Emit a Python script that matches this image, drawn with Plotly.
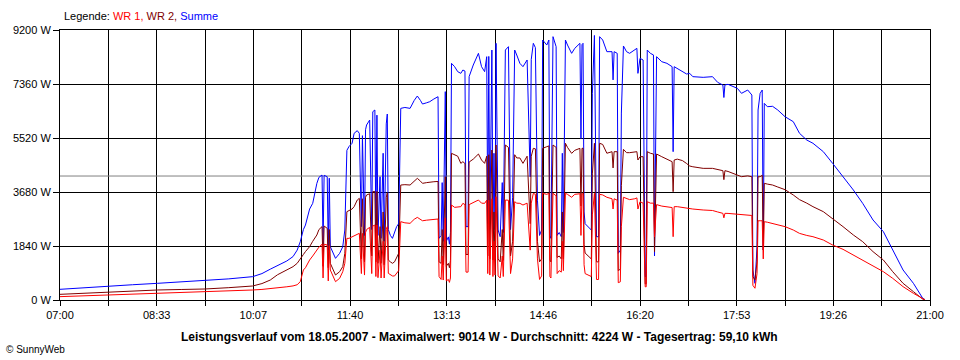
import plotly.graph_objects as go

# ---- data (time, Summe, WR 2, WR 1) ----
times = ["07:00","07:23","07:46","08:10","08:34","08:57","09:20","09:43","10:06","10:15",
         "10:23","10:30","10:39","10:45","10:49","10:52","10:55","10:57","11:01","11:04",
         "11:08","11:10","11:13","11:14","11:15","11:18","11:19","11:20","11:21","11:26",
         "11:30","11:33","11:35","11:37","11:39","11:42","11:44","11:47","11:49","11:51",
         "11:52","11:54","11:55","11:56","11:59","12:01","12:02","12:04","12:05","12:06",
         "12:07","12:09","12:10","12:12","12:13","12:15","12:16","12:17","12:19","12:21",
         "12:23","12:25","12:27","12:29","12:33","12:38","12:42","12:45","12:48","12:50",
         "12:54","12:57","13:01","13:05","13:06","13:08","13:09","13:10","13:12","13:13",
         "13:15","13:16","13:17","13:18","13:21","13:24","13:27","13:29","13:31","13:32",
         "13:34","13:35","13:39","13:41","13:44","13:47","13:50","13:52","13:53","13:54",
         "13:55","13:57","13:58","13:59","14:00","14:01","14:03","14:05","14:07","14:08",
         "14:10","14:13","14:14","14:15","14:17","14:19","14:21","14:24","14:27","14:31",
         "14:34","14:35","14:37","14:39","14:41","14:42","14:43","14:45","14:46","14:50",
         "14:52","14:53","14:54","14:56","14:59","15:00","15:02","15:04","15:05","15:06",
         "15:08","15:10","15:14","15:17","15:22","15:23","15:24","15:25","15:26","15:27",
         "15:30","15:33","15:34","15:36","15:38","15:40","15:41","15:44","15:48","15:53",
         "15:54","15:55","15:58","15:59","16:01","16:02","16:04","16:07","16:10","16:15",
         "16:17","16:18","16:20","16:23","16:25","16:26","16:27","16:30","16:33","16:34",
         "16:36","16:41","16:46","16:51","16:52","16:53","16:56","17:01","17:05","17:08",
         "17:11","17:21","17:30","17:35","17:40","17:41","17:42","17:45","17:50","17:54",
         "17:58","18:04","18:08","18:09","18:11","18:13","18:14","18:16","18:18","18:19",
         "18:20","18:23","18:28","18:33","18:40","18:48","18:54","19:01","19:07","19:17",
         "19:26","19:36","19:46","19:55","20:05","20:15","20:24","20:34","20:44","20:53",
         "20:55"]

summe = [364,420,477,520,568,615,659,720,795,900,
         1050,1180,1330,1480,1700,1988,2400,2555,3100,3294,
         3975,4180,4259,1900,4250,4200,1700,4150,1817,1420,
         1590,1817,2385,5100,5227,5340,5680,5770,5680,2500,
         5600,2200,5800,5963,6133,2400,6417,6474,2300,6300,
         2200,4200,2100,5000,2000,6000,6337,2400,2200,2100,
         2300,2500,2600,6530,6560,6530,6800,6950,6800,6678,
         6720,6757,6850,6927,2100,2200,4000,2000,7100,2000,
         2150,1900,2300,8064,7950,7780,7723,7837,7800,2500,
         2500,7610,8007,8150,8405,7950,7780,8291,2600,8300,
         2400,8518,2300,5000,2400,8746,2385,2157,4000,2300,
         8518,8632,5000,2400,3500,8518,8348,8064,7950,8178,
         4200,8200,8746,8600,3400,2500,2200,2385,8859,8688,
         8859,2200,2100,8973,8632,2200,2300,2157,5000,2300,
         8859,8688,8405,8575,8746,5500,8700,8746,3000,2600,
         2500,2385,7042,9014,2157,2157,8973,8859,8462,8462,
         7500,8462,8405,1590,1700,6370,8655,8462,8405,8518,
         8575,7723,8234,8178,800,800,8518,8405,8350,1500,
         8291,8120,8064,7950,5054,7950,7894,7780,7700,7723,
         7610,7587,7610,7416,7325,6900,7330,7348,7280,7212,
         7042,7155,6985,1022,568,1800,6474,7042,7155,1704,
         6700,6587,6600,6474,6246,6076,5680,5451,5340,5054,
         4656,4202,3748,3294,2726,2328,1704,1022,568,57,
         20]

wr2 = [193,235,272,305,341,358,375,420,477,560,
       680,860,1030,1136,1250,1420,1550,1650,1817,2000,
       2215,2400,2500,1150,2520,2442,1100,2400,1250,852,
       965,1136,1590,3010,3040,3100,3180,3407,3464,1400,
       3450,1300,3500,3578,3620,1500,3691,3700,1300,3700,
       1250,2500,1250,3000,1200,3500,3650,1363,1300,1250,
       1300,1450,1590,3918,3930,3918,4050,4145,4050,3975,
       4000,4020,4030,4040,1300,1250,2400,1200,4200,1150,
       1250,1100,1350,4997,4940,4900,4656,4713,4650,1550,
       1550,4700,4800,4883,4974,4770,4656,4900,1500,4950,
       1400,5111,1363,3000,1400,5281,1400,1300,2400,1350,
       5281,5200,3000,1500,2000,4950,4840,4840,4656,4900,
       2600,4900,5168,5150,2000,1500,1300,1400,5168,5224,
       5250,1363,1300,5281,5200,1450,1500,1400,3000,1400,
       5340,5200,4997,5100,5168,3200,5170,5168,1900,1600,
       1500,1400,4300,5340,1300,1300,5340,5300,5000,5054,
       4500,5054,5054,1000,1050,3900,5134,5020,5020,5050,
       5054,4770,4883,4883,550,550,5054,5000,4974,1650,
       4974,4883,4800,4713,3691,4770,4800,4750,4650,4565,
       4540,4486,4486,4450,4407,4100,4407,4380,4316,4270,
       4202,4230,4200,800,681,1300,4200,4200,4250,1704,
       3975,3950,3918,3850,3760,3578,3420,3300,3180,3010,
       2783,2500,2215,1988,1647,1363,965,568,284,30,
       10]

wr1 = [114,140,170,200,227,250,272,300,341,360,
       385,420,450,480,520,625,1022,1100,1363,1500,
       1704,1800,1900,750,1900,1874,650,1850,1022,625,
       738,965,1250,2100,2100,2150,2200,2250,2272,900,
       2270,850,2300,2400,2476,900,2520,2555,800,2555,
       760,1700,750,2000,750,2400,2500,909,850,818,
       818,900,1000,2669,2630,2612,2750,2816,2750,2700,
       2720,2730,2748,2760,800,700,1500,680,2800,650,
       700,600,750,3237,3157,3180,3180,3294,3250,950,
       950,3250,3330,3350,3407,3300,3294,3400,900,3400,
       850,3450,800,2000,850,3520,820,750,1500,800,
       3407,3400,2000,900,1400,3350,3300,3294,3237,3300,
       1700,3300,3635,3600,1400,900,700,820,3635,3600,
       3635,800,750,3635,3550,900,1000,950,2000,1000,
       3635,3600,3500,3600,3620,2200,3620,3620,1200,900,
       850,800,2900,3635,700,700,3600,3580,3500,3450,
       3100,3450,3400,590,620,2500,3500,3450,3420,3450,
       3480,3100,3350,3300,450,450,3350,3300,3300,2150,
       3250,3200,3180,3150,2157,3180,3180,3150,3123,3123,
       3100,3067,3050,3000,2953,2800,2953,2950,2940,2930,
       2919,2900,2880,500,400,900,2700,2700,2700,1400,
       2669,2650,2612,2560,2500,2385,2270,2200,2157,2044,
       1874,1727,1533,1363,1158,965,738,455,227,30,
       10]

durchschnitt = 4224
x_tick_labels = ["07:00","08:33","10:07","11:40","13:13","14:46","16:20","17:53","19:26","21:00"]
y_tick_values = [0, 1840, 3680, 5520, 7360, 9200]
y_tick_labels = ["0 W", "1840 W", "3680 W", "5520 W", "7360 W", "9200 W"]
title_text = ("Leistungsverlauf vom 18.05.2007 - Maximalwert: 9014 W - "
              "Durchschnitt: 4224 W - Tagesertrag: 59,10 kWh")


def to_min(s):
    h, m = s.split(":")
    return int(h) * 60 + int(m)


xs = [to_min(t) for t in times]
x0, x1 = to_min(x_tick_labels[0]), to_min(x_tick_labels[-1])
step = (x1 - x0) / (len(x_tick_labels) - 1)
major_vals = [x0 + i * step for i in range(len(x_tick_labels))]
minor_vals = [x0 + (i + 0.5) * step for i in range(len(x_tick_labels) - 1)]

FONT = "Liberation Sans"
fig = go.Figure()
fig.add_trace(go.Scatter(x=[x0, x1], y=[durchschnitt, durchschnitt], mode="lines",
                         line=dict(color="#808080", width=1), hoverinfo="skip"))
fig.add_trace(go.Scatter(x=xs, y=summe, mode="lines", name="Summe",
                         line=dict(color="#0000FF", width=1)))
fig.add_trace(go.Scatter(x=xs, y=wr2, mode="lines", name="WR 2",
                         line=dict(color="#800000", width=1)))
fig.add_trace(go.Scatter(x=xs, y=wr1, mode="lines", name="WR 1",
                         line=dict(color="#FF0000", width=1)))

fig.update_layout(
    width=960, height=360,
    margin=dict(l=60, r=30, t=30, b=60),
    paper_bgcolor="white", plot_bgcolor="white",
    showlegend=False,
    font=dict(family=FONT, size=11, color="black"),
    xaxis=dict(range=[x0, x1], tickmode="array", tickvals=major_vals, ticktext=x_tick_labels,
               showgrid=True, gridcolor="black", gridwidth=1,
               ticks="outside", ticklen=5, tickcolor="black",
               showline=True, linecolor="black", linewidth=1, mirror=True,
               zeroline=False, tickfont=dict(family=FONT, size=11, color="black"),
               minor=dict(tickvals=minor_vals, showgrid=True, gridcolor="black", gridwidth=1,
                          ticks="outside", ticklen=5, tickcolor="black")),
    yaxis=dict(range=[0, 9200], tickmode="array", tickvals=y_tick_values, ticktext=y_tick_labels,
               showgrid=True, gridcolor="black", gridwidth=1,
               ticks="outside", ticklen=6, tickcolor="black",
               showline=True, linecolor="black", linewidth=1, mirror=True,
               zeroline=False, tickfont=dict(family=FONT, size=11, color="black")),
    annotations=[
        dict(xref="paper", yref="paper", x=0.0023, y=(300 - 16) / 270, xanchor="left", yanchor="middle",
             showarrow=False, font=dict(family=FONT, size=11, color="black"),
             text='Legende: <span style="color:#FF0000">WR 1, </span>'
                  '<span style="color:#800000">WR 2, </span>'
                  '<span style="color:#0000FF">Summe</span>'),
        dict(xref="paper", yref="paper", x=(479 - 60) / 870, y=(300 - 337) / 270,
             xanchor="center", yanchor="middle", showarrow=False,
             font=dict(family=FONT, size=12, color="black"), text="<b>" + title_text + "</b>"),
        dict(xref="paper", yref="paper", x=(4 - 60) / 870, y=(300 - 349) / 270,
             xanchor="left", yanchor="middle", showarrow=False,
             font=dict(family=FONT, size=10, color="black"), text="© SunnyWeb"),
    ],
)

fig.write_html("out.html", config={"displayModeBar": False},
               post_script="document.body.style.margin='0';")
